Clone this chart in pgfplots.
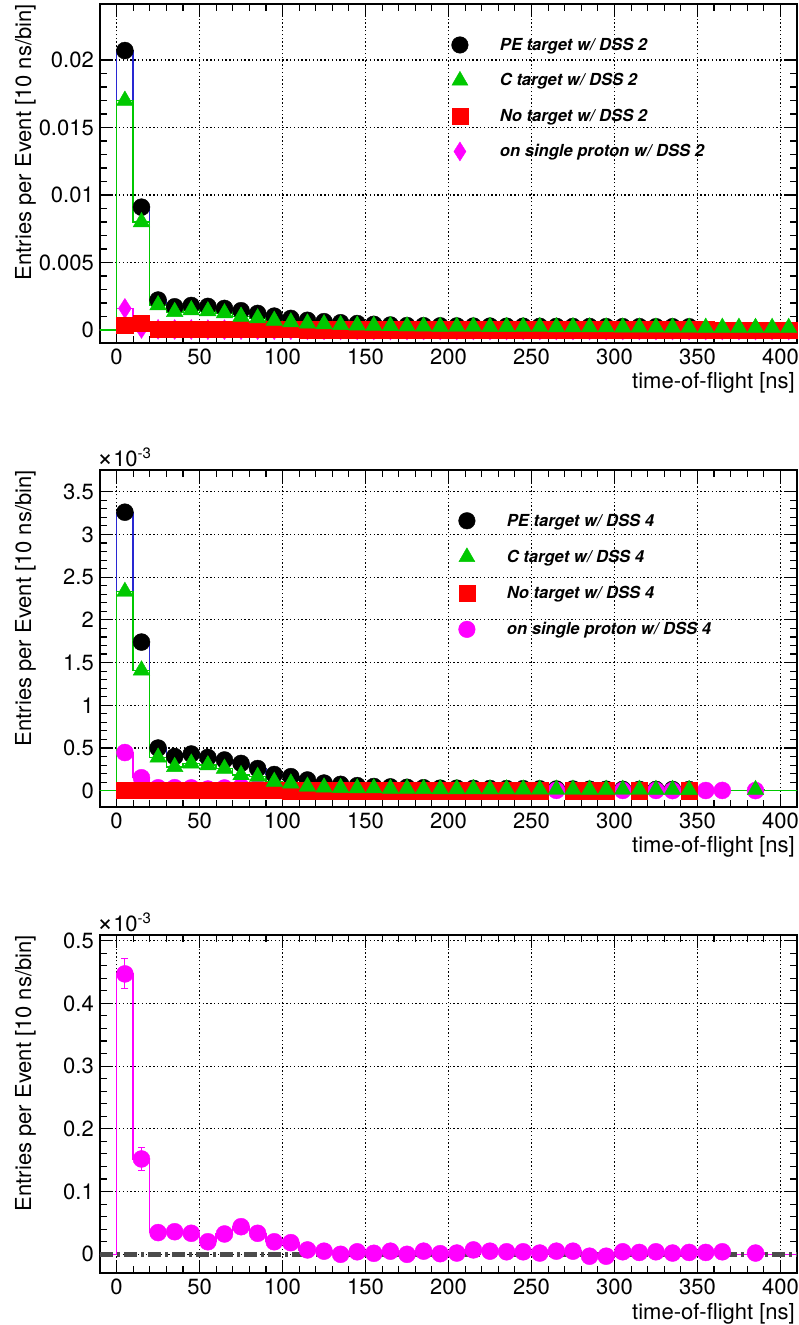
\documentclass[border=0pt]{standalone}
\usepackage{fontspec}
\setmainfont{TeX Gyre Heros}
\usepackage{pgfplots}
\usepackage{pgfplotstable}
\pgfplotsset{compat=1.18}
\definecolor{rgreen}{RGB}{0,200,0}
\definecolor{rblue}{RGB}{40,40,210}
\definecolor{rmag}{RGB}{255,0,255}
\definecolor{rred}{RGB}{255,0,0}
\definecolor{rgray}{RGB}{75,75,75}

% Panel 1 (DSS 2): *L = histogram line value, plain = marker value (nan = empty bin)
\pgfplotstableread{
x peL pe cL c noL no spL sp
-15 0 nan 0 nan 0 nan 0 nan
-5 0 nan 0 nan 0 nan 0 nan
5 0.0207 0.0207 0.0170 0.0170 0.00037 0.00037 0.0016 0.0016
15 0.0091 0.0091 0.0080 0.0080 0.00050 0.00050 0.00012 0.00012
25 0.00222 0.00222 0.00185 0.00185 0.00008 0.00008 0.00005 0.00005
35 0.00172 0.00172 0.00135 0.00135 0.00007 0.00007 0.00004 0.00004
45 0.00182 0.00182 0.00148 0.00148 0.00007 0.00007 0.00004 0.00004
55 0.00175 0.00175 0.00140 0.00140 0.00006 0.00006 0.00003 0.00003
65 0.00160 0.00160 0.00125 0.00125 0.00006 0.00006 0.00003 0.00003
75 0.00143 0.00143 0.00100 0.00100 0.00005 0.00005 0.00003 0.00003
85 0.00123 0.00123 0.00088 0.00088 0.00005 0.00005 0.00002 0.00002
95 0.00103 0.00103 0.00070 0.00070 0.00004 0.00004 0.00002 0.00002
105 0.00086 0.00086 0.00058 0.00058 0.00004 0.00004 0.00002 0.00002
115 0.00072 0.00072 0.00050 0.00050 0.00003 0.00003 0.00001 0.00001
125 0.00062 0.00062 0.00044 0.00044 0.00003 0.00003 0.00001 0.00001
135 0.00054 0.00054 0.00038 0.00038 0.00002 0.00002 0.00001 0.00001
145 0.00048 0.00048 0.00035 0.00035 0.00002 0.00002 0.00001 0.00001
155 0.00042 0.00042 0.00032 0.00032 0.00002 0.00002 0 0
165 0.00037 0.00037 0.00030 0.00030 0.00002 0.00002 0 0
175 0.00033 0.00033 0.00028 0.00028 0.00001 0.00001 0 0
185 0.00032 0.00032 0.00027 0.00027 0.00001 0.00001 0 0
195 0.00031 0.00031 0.00026 0.00026 0.00001 0.00001 0 0
205 0.00030 0.00030 0.00025 0.00025 0.00001 0.00001 0 0
215 0.00029 0.00029 0.00025 0.00025 0.00001 0.00001 0 0
225 0.00029 0.00029 0.00024 0.00024 0.00001 0.00001 0 0
235 0.00028 0.00028 0.00024 0.00024 0.00001 0.00001 0 0
245 0.00028 0.00028 0.00023 0.00023 0.00001 0.00001 0 0
255 0.00027 0.00027 0.00023 0.00023 0.00001 0.00001 0 0
265 0.00027 0.00027 0.00022 0.00022 0.00001 0.00001 0 0
275 0.00026 0.00026 0.00022 0.00022 0.00001 0.00001 0 0
285 0.00026 0.00026 0.00021 0.00021 0.00001 0.00001 0 0
295 0.00025 0.00025 0.00021 0.00021 0.00001 0.00001 0 0
305 0.00025 0.00025 0.00020 0.00020 0.00001 0.00001 0 0
315 0.00025 0.00025 0.00020 0.00020 0.00001 0.00001 0 0
325 0.00024 0.00024 0.00020 0.00020 0.00001 0.00001 0 0
335 0.00024 0.00024 0.00019 0.00019 0.00001 0.00001 0 0
345 0.00024 0.00024 0.00019 0.00019 0.00001 0.00001 0 0
355 0 nan 0.00018 0.00018 0.00001 0.00001 0 0
365 0 nan 0.00018 0.00018 0 0 0 0
375 0 nan 0.00018 0.00018 0 0 0 0
385 0 nan 0.00017 0.00017 0 0 0 0
395 0 nan 0.00017 0.00017 0 0 0 0
405 0 nan 0.00017 0.00017 0 0 0 0
415 0 nan 0 nan 0 nan 0 nan
}\tabA

% Panel 2 (DSS 4), values in units of 10^-3
\pgfplotstableread{
x peL pe cL c noL no spL sp
-15 0 nan 0 nan 0 nan 0 nan
-5 0 nan 0 nan 0 nan 0 nan
5 3.26 3.26 2.33 2.33 0.010 0.010 0.447 0.447
15 1.74 1.74 1.41 1.41 0.010 0.010 0.152 0.152
25 0.50 0.50 0.39 0.39 0.006 0.006 0.0346 0.0346
35 0.40 0.40 0.28 0.28 0.006 0.006 0.036 0.036
45 0.43 0.43 0.32 0.32 0.005 0.005 0.0335 0.0335
55 0.39 0.39 0.30 0.30 0.005 0.005 0.020 0.020
65 0.36 0.36 0.26 0.26 0.005 0.005 0.0324 0.0324
75 0.32 0.32 0.185 0.185 0.004 0.004 0.044 0.044
85 0.26 0.26 0.165 0.165 0.004 0.004 0.0335 0.0335
95 0.19 0.19 0.106 0.106 0.004 0.004 0.020 0.020
105 0.165 0.165 0.087 0.087 0.003 0.003 0.0186 0.0186
115 0.126 0.126 0.050 0.050 0.003 0.003 0.007 0.007
125 0.090 0.090 0.040 0.040 0.003 0.003 0.005 0.005
135 0.075 0.075 0.035 0.035 0.002 0.002 0.000 0.000
145 0.060 0.060 0.030 0.030 0.002 0.002 0.004 0.004
155 0.050 0.050 0.030 0.030 0.002 0.002 0.0016 0.0016
165 0.045 0.045 0.025 0.025 0.002 0.002 0.005 0.005
175 0.040 0.040 0.025 0.025 0.002 0.002 0.000 0.000
185 0.035 0.035 0.022 0.022 0.001 0.001 0.005 0.005
195 0.030 0.030 0.020 0.020 0.001 0.001 0.001 0.001
205 0.030 0.030 0.020 0.020 0.001 0.001 0.002 0.002
215 0.028 0.028 0.020 0.020 0.001 0.001 0.007 0.007
225 0.026 0.026 0.018 0.018 0.001 0.001 0.005 0.005
235 0.025 0.025 0.018 0.018 0.001 0.001 0.004 0.004
245 0.024 0.024 0.017 0.017 0.001 0.001 0.004 0.004
255 0.022 0.022 0.016 0.016 0.001 0.001 0.002 0.002
265 0.020 0.020 0.015 0.015 0 nan 0.005 0.005
275 0.020 0.020 0.015 0.015 0.001 0.001 0.005 0.005
285 0.018 0.018 0.014 0.014 0.001 0.001 -0.003 -0.003
295 0.018 0.018 0.014 0.014 0.001 0.001 -0.003 -0.003
305 0.016 0.016 0.013 0.013 0 nan 0.004 0.004
315 0.016 0.016 0.013 0.013 0.001 0.001 0.003 0.003
325 0.015 0.015 0.012 0.012 0 nan 0.004 0.004
335 0.015 0.015 0.012 0.012 0 nan 0.002 0.002
345 0.014 0.014 0.011 0.011 0.001 0.001 0.003 0.003
355 0 nan 0 nan 0 nan 0.003 0.003
365 0 nan 0 nan 0 nan 0.004 0.004
375 0 nan 0 nan 0 nan 0 nan
385 0 nan 0.010 0.010 0 nan 0.002 0.002
395 0 nan 0 nan 0 nan 0 nan
405 0 nan 0 nan 0 nan 0 nan
415 0 nan 0 nan 0 nan 0 nan
}\tabB

% Panel 3 (single proton, DSS 4), units of 10^-3, with errors
\pgfplotstableread{
x yL m e
-15 0 nan 0
-5 0 nan 0
5 0.447 0.447 0.024
15 0.152 0.152 0.018
25 0.0346 0.0346 0.008
35 0.036 0.036 0.008
45 0.0335 0.0335 0.008
55 0.020 0.020 0.007
65 0.0324 0.0324 0.008
75 0.044 0.044 0.009
85 0.0335 0.0335 0.008
95 0.020 0.020 0.007
105 0.0186 0.0186 0.007
115 0.007 0.007 0.005
125 0.005 0.005 0.005
135 0.000 0.000 0.004
145 0.004 0.004 0.005
155 0.0016 0.0016 0.004
165 0.005 0.005 0.005
175 0.000 0.000 0.004
185 0.005 0.005 0.005
195 0.001 0.001 0.004
205 0.002 0.002 0.004
215 0.007 0.007 0.005
225 0.005 0.005 0.005
235 0.004 0.004 0.004
245 0.004 0.004 0.004
255 0.002 0.002 0.004
265 0.005 0.005 0.005
275 0.005 0.005 0.005
285 -0.003 -0.003 0.004
295 -0.003 -0.003 0.004
305 0.004 0.004 0.004
315 0.003 0.003 0.004
325 0.004 0.004 0.004
335 0.002 0.002 0.004
345 0.003 0.003 0.004
355 0.003 0.003 0.004
365 0.004 0.004 0.004
375 0 nan 0
385 0.002 0.002 0.004
395 0 nan 0
405 0 nan 0
415 0 nan 0
}\tabC

\newcommand{\expolabel}{\fontsize{22bp}{26bp}\selectfont
  \scalebox{1.25}{×}10\raisebox{8bp}{\fontsize{15bp}{18bp}\selectfont -3}}

\pgfplotsset{
  rootaxis/.style={
    scale only axis, width=697bp,
    xmin=-10, xmax=410,
    xtick={0,50,100,150,200,250,300,350,400},
    xticklabels={0,50,100,150,200,250,300,350,400},
    scaled y ticks=false,
    minor x tick num=4, minor y tick num=4,
    tick pos=both, tick align=inside,
    major tick length=13bp, minor tick length=7bp,
    every tick/.style={black, line width=1.1bp},
    axis line style={line width=1.8bp},
    grid=major,
    major grid style={black, line width=1.2bp, dash pattern=on 1.4bp off 2.4bp},
    tick label style={font=\fontsize{22bp}{26bp}\selectfont, inner sep=0pt},
    xticklabel style={yshift=-6bp},
    yticklabel style={xshift=-6bp},
    xlabel={time-of-flight [ns]},
    ylabel={Entries per Event [10 ns/bin]},
    every axis x label/.style={at={(rel axis cs:1,0)}, anchor=north east,
      yshift=-29.7bp, xshift=-2bp, inner sep=0pt, font=\fontsize{22bp}{26bp}\selectfont},
    every axis y label/.style={at={(rel axis cs:0,1)}, xshift=-64bp, rotate=90,
      anchor=south east, inner sep=0pt, font=\fontsize{22bp}{26bp}\selectfont},
    legend cell align=left,
    legend image code/.code={\path[draw=none,fill=none] (0bp,-10bp) (40bp,10bp);
      \draw[##1] plot coordinates {(0bp,0bp)};},
    legend style={draw=none, fill=none, inner sep=0pt, outer sep=0pt,
      font=\fontsize{16.6bp}{20bp}\selectfont\bfseries\itshape,
      row sep=15.5bp, column sep=0pt,
      nodes={inner sep=0pt, outer sep=0pt}},
    hline/.style={line width=1.4bp, const plot mark mid, forget plot},
    expo/.style={after end axis/.append code={
      \node[anchor=base west, inner sep=0pt, xshift=-3bp, yshift=3.5bp]
        at (rel axis cs:0,1) {\expolabel};}},
  }
}

\begin{document}
\begin{tikzpicture}
\path[use as bounding box] (-100bp,-52bp) rectangle (699bp,1273bp);

% ---------------- Panel 1 ----------------
\begin{axis}[rootaxis, at={(0bp,930bp)}, anchor=south west, height=339bp,
  ymin=-0.00096, ymax=0.02415,
  ytick={0,0.005,0.01,0.015,0.02}, yticklabels={0,0.005,0.01,0.015,0.02},
  legend style={at={(0.5045,0.9086)}, anchor=north west}]
\addlegendimage{only marks, mark=*, black, mark size=8.3bp}
\addlegendentry{PE target w/ DSS 2}
\addlegendimage{only marks, mark=triangle*, rgreen, mark size=9.2bp}
\addlegendentry{C target w/ DSS 2}
\addlegendimage{only marks, mark=square*, rred, mark size=8bp}
\addlegendentry{No target w/ DSS 2}
\addlegendimage{only marks, mark=diamond*, rmag, mark size=9.5bp, mark options={xscale=0.85}}
\addlegendentry{on single proton w/ DSS 2}

\addplot[rmag, hline] table[x=x,y=spL]{\tabA};
\addplot[only marks, mark=diamond*, rmag, mark size=10bp, mark options={xscale=0.85}, forget plot] table[x=x,y=sp]{\tabA};
\addplot[rblue, hline] table[x=x,y=peL]{\tabA};
\addplot[only marks, mark=*, black, mark size=8.5bp, forget plot] table[x=x,y=pe]{\tabA};
\addplot[rred, hline] table[x=x,y=noL]{\tabA};
\addplot[only marks, mark=square*, rred, mark size=8.2bp, forget plot] table[x=x,y=no]{\tabA};
\addplot[rgreen, hline] table[x=x,y=cL]{\tabA};
\addplot[only marks, mark=triangle*, rgreen, mark size=9.6bp, forget plot] table[x=x,y=c]{\tabA};
\end{axis}

% ---------------- Panel 2 ----------------
\begin{axis}[rootaxis, expo, at={(0bp,466bp)}, anchor=south west, height=337bp,
  ymin=-0.19, ymax=3.754,
  ytick={0,0.5,1,1.5,2,2.5,3,3.5}, yticklabels={0,0.5,1,1.5,2,2.5,3,3.5},
  legend style={at={(0.5145,0.879)}, anchor=north west, row sep=16.2bp}]
\addlegendimage{only marks, mark=*, black, mark size=8.3bp}
\addlegendentry{PE target w/ DSS 4}
\addlegendimage{only marks, mark=triangle*, rgreen, mark size=9.2bp}
\addlegendentry{C target w/ DSS 4}
\addlegendimage{only marks, mark=square*, rred, mark size=8bp}
\addlegendentry{No target w/ DSS 4}
\addlegendimage{only marks, mark=*, rmag, mark size=8.3bp}
\addlegendentry{on single proton w/ DSS 4}

\addplot[rblue, hline] table[x=x,y=peL]{\tabB};
\addplot[only marks, mark=*, black, mark size=8.5bp, forget plot] table[x=x,y=pe]{\tabB};
\addplot[rmag, hline] table[x=x,y=spL]{\tabB};
\addplot[only marks, mark=*, rmag, mark size=8.5bp, forget plot] table[x=x,y=sp]{\tabB};
\addplot[rred, hline] table[x=x,y=noL]{\tabB};
\addplot[only marks, mark=square*, rred, mark size=8.2bp, forget plot] table[x=x,y=no]{\tabB};
\addplot[rgreen, hline] table[x=x,y=cL]{\tabB};
\addplot[only marks, mark=triangle*, rgreen, mark size=9.6bp, forget plot] table[x=x,y=c]{\tabB};
\end{axis}

% ---------------- Panel 3 ----------------
\begin{axis}[rootaxis, expo, at={(0bp,0bp)}, anchor=south west, height=338bp,
  ymin=-0.0298, ymax=0.509,
  ytick={0,0.1,0.2,0.3,0.4,0.5}, yticklabels={0,0.1,0.2,0.3,0.4,0.5}]
\addplot[rmag, hline] table[x=x,y=yL]{\tabC};
\addplot[only marks, mark=*, rmag, mark size=8.5bp, forget plot,
  error bars/.cd, y dir=both, y explicit,
  error bar style={line width=1bp, rmag},
  error mark options={rotate=90, mark size=3.5bp, line width=1bp, rmag}]
  table[x=x,y=m,y error=e]{\tabC};
\addplot[rgray, line width=4.5bp, dash pattern=on 13bp off 4bp on 3bp off 4bp, forget plot]
  coordinates {(-10,0) (410,0)};
\end{axis}
\end{tikzpicture}
\end{document}
